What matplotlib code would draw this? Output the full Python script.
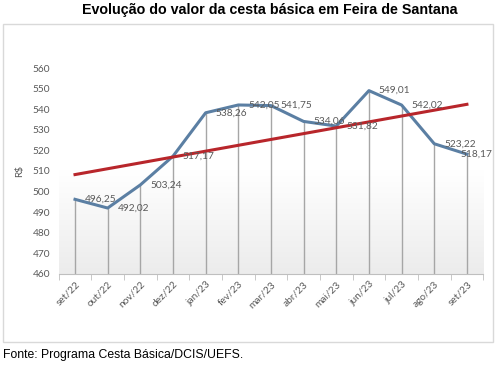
import numpy as np
import matplotlib
matplotlib.use("Agg")
import matplotlib.pyplot as plt
from matplotlib.patches import Rectangle
from matplotlib.colors import LinearSegmentedColormap

meses = ["set/22", "out/22", "nov/22", "dez/22", "jan/23", "fev/23", "mar/23",
         "abr/23", "mai/23", "jun/23", "jul/23", "ago/23", "set/23"]
valores = [496.25, 492.02, 503.24, 517.17, 538.26, 542.05, 541.75,
           534.06, 531.82, 549.01, 542.02, 523.22, 518.17]
y_ticks = [460, 470, 480, 490, 500, 510, 520, 530, 540, 550, 560]

cinza = "#595959"
x = np.arange(len(meses))
y = np.array(valores)

fig = plt.figure(figsize=(4.96, 3.66), dpi=100)
ax = fig.add_axes([0.1183, 0.2514, 0.856, 0.5628])

# chart border
fig.patches.append(Rectangle((3 / 496, 24 / 366), 490 / 496, 318 / 366,
                             transform=fig.transFigure, fill=False,
                             edgecolor="#d9d9d9", linewidth=1))

# plot area gradient (white at top, light grey at bottom)
cmap = LinearSegmentedColormap.from_list("fundo", ["#ffffff", "#ffffff", "#ececec"])
grad = np.linspace(0, 1, 256).reshape(-1, 1)
ax.imshow(grad, extent=[-0.5, 12.5, 460, 560], aspect="auto", cmap=cmap,
          origin="upper", zorder=0)

# drop lines
ax.vlines(x, 460, y, color="#a6a6a6", linewidth=1, zorder=1)

# series + trend
ax.plot(x, y, color="#5b7fa3", linewidth=2.2, zorder=3)
m, c = np.polyfit(x, y, 1)
ax.plot(x, m * x + c, color="#b8262b", linewidth=2.2, zorder=4)

for i, (xi, v) in enumerate(zip(x, valores)):
    dx = -5 if i == len(valores) - 1 else 7
    ax.annotate(f"{v:.2f}".replace(".", ","), (xi, v), xytext=(dx, 0),
                textcoords="offset points", ha="left", va="center",
                fontsize=7.3, color=cinza, family="Lato", zorder=5)

ax.set_xlim(-0.5, 12.5)
ax.set_ylim(460, 560)
ax.set_yticks(y_ticks)
ax.set_yticklabels([str(t) for t in y_ticks], family="Lato", fontsize=7.3, color=cinza)
ax.tick_params(axis="y", length=0, pad=6)

ax.set_xticks(x)
ax.set_xticklabels(meses, rotation=45, ha="right", rotation_mode="anchor",
                   family="Lato", fontsize=7.3, color=cinza)
ax.tick_params(axis="x", which="major", length=0, pad=4)
ax.set_xticks(np.arange(-0.5, 13, 1), minor=True)
ax.tick_params(axis="x", which="minor", length=4, color="#bfbfbf", direction="out")

for s in ["top", "right", "left"]:
    ax.spines[s].set_visible(False)
ax.spines["bottom"].set_color("#bfbfbf")

ax.set_ylabel("R$", family="Lato", fontsize=7.3, color=cinza, labelpad=6)

fig.text(0.543, 0.972, "Evolução do valor da cesta básica em Feira de Santana",
         ha="center", va="center", family="Liberation Sans", fontweight="bold",
         fontsize=10.3, color="black")
fig.text(0.006, 0.03, "Fonte: Programa Cesta Básica/DCIS/UEFS.", ha="left",
         va="center", family="Liberation Sans", fontsize=8.8, color="black")

fig.savefig("out.png", dpi=100)
